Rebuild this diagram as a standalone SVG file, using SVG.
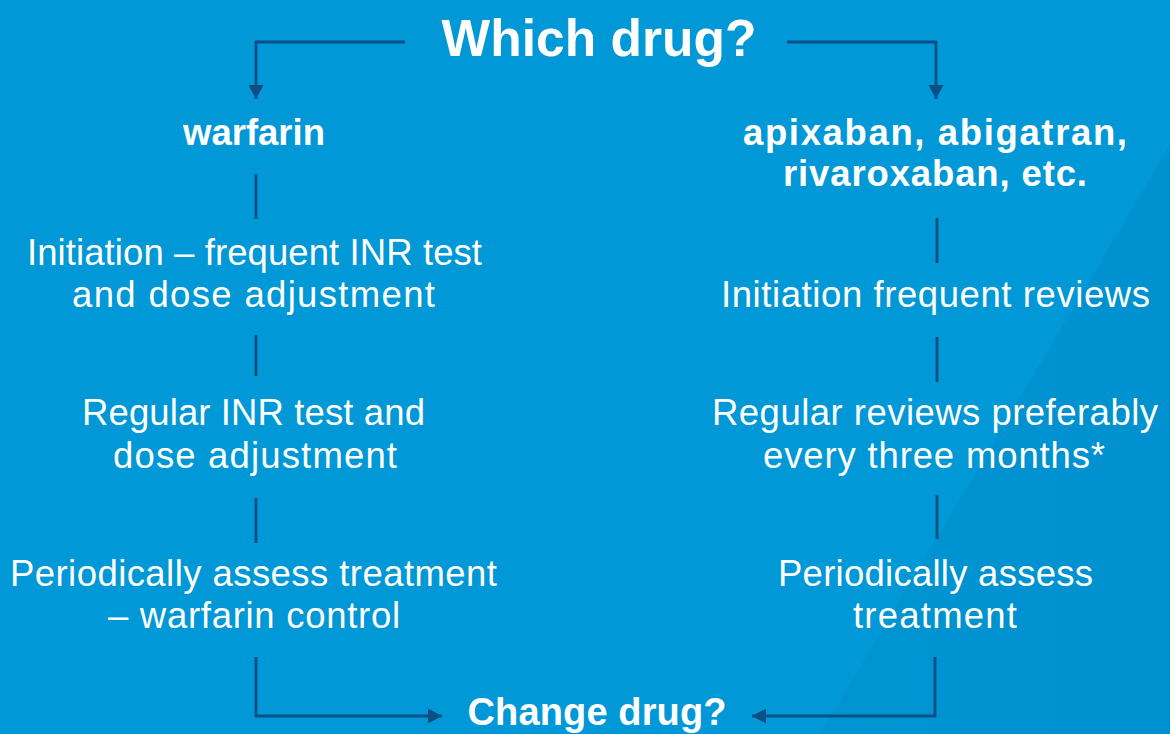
<svg xmlns="http://www.w3.org/2000/svg" width="1170" height="734" viewBox="0 0 1170 734">
  <defs>
    <marker id="arrowhead" viewBox="0 0 14 15" refX="14" refY="7.5" markerWidth="14" markerHeight="15" markerUnits="userSpaceOnUse" orient="auto">
      <path d="M0,0 L14,7.5 L0,15 Z" fill="#0c4f86"/>
    </marker>
    <linearGradient id="shade" x1="0" y1="0" x2="1" y2="0">
      <stop offset="0" stop-color="#0091ce"/>
      <stop offset="1" stop-color="#008dcb"/>
    </linearGradient>
    <style>
      .t { font-family: "Liberation Sans", Arial, sans-serif; fill: #ffffff; text-anchor: middle; font-size: 36.5px; }
      .b { font-weight: bold; }
      .title { font-size: 51.5px; }
      .change { font-size: 38px; }
      .conn { fill: none; stroke: #0c4f86; stroke-width: 2.8; }
      .sep { stroke: #0c4f86; stroke-width: 2.8; }
    </style>
  </defs>

  <!-- background with a faint diagonal band on the right -->
  <rect x="0" y="0" width="1170" height="734" fill="#0098d6"/>
  <polygon points="1170,145 1170,734 820,734" fill="url(#shade)" opacity="0.6"/>

  <!-- connectors -->
  <g id="connectors">
    <path class="conn" d="M405,42 H256 V99" marker-end="url(#arrowhead)"/>
    <path class="conn" d="M787,42 H936 V99" marker-end="url(#arrowhead)"/>
    <path class="conn" d="M256,657 V716 H442" marker-end="url(#arrowhead)"/>
    <path class="conn" d="M935,657 V716 H752" marker-end="url(#arrowhead)"/>
    <line class="sep" x1="256" y1="174" x2="256" y2="219"/>
    <line class="sep" x1="256" y1="335" x2="256" y2="376"/>
    <line class="sep" x1="256" y1="498" x2="256" y2="543"/>
    <line class="sep" x1="937" y1="218" x2="937" y2="263"/>
    <line class="sep" x1="937" y1="337" x2="937" y2="382"/>
    <line class="sep" x1="937" y1="495" x2="937" y2="539"/>
  </g>

  <g id="which-drug">
    <text class="t b title" x="599" y="56" textLength="315">Which drug?</text>
  </g>

  <g id="warfarin">
    <text class="t b" x="254" y="145" textLength="142">warfarin</text>
  </g>

  <g id="doacs">
    <text class="t b" x="935" y="145" textLength="384">apixaban, abigatran,</text>
    <text class="t b" x="935" y="186" textLength="304">rivaroxaban, etc.</text>
  </g>

  <g id="warfarin-initiation">
    <text class="t" x="254.5" y="265" textLength="455">Initiation – frequent INR test</text>
    <text class="t" x="253.5" y="307" textLength="363">and dose adjustment</text>
  </g>

  <g id="warfarin-regular">
    <text class="t" x="253.5" y="425" textLength="343">Regular INR test and</text>
    <text class="t" x="255" y="468" textLength="284">dose adjustment</text>
  </g>

  <g id="warfarin-assess">
    <text class="t" x="253.5" y="586" textLength="487">Periodically assess treatment</text>
    <text class="t" x="254" y="628" textLength="292">– warfarin control</text>
  </g>

  <g id="doac-initiation">
    <text class="t" x="935.5" y="307" textLength="429">Initiation frequent reviews</text>
  </g>

  <g id="doac-regular">
    <text class="t" x="935" y="425" textLength="446">Regular reviews preferably</text>
    <text class="t" x="934" y="468" textLength="342">every three months*</text>
  </g>

  <g id="doac-assess">
    <text class="t" x="935.5" y="586" textLength="315">Periodically assess</text>
    <text class="t" x="935" y="628" textLength="164">treatment</text>
  </g>

  <g id="change-drug">
    <text class="t b change" x="597" y="725" textLength="259">Change drug?</text>
  </g>
</svg>
